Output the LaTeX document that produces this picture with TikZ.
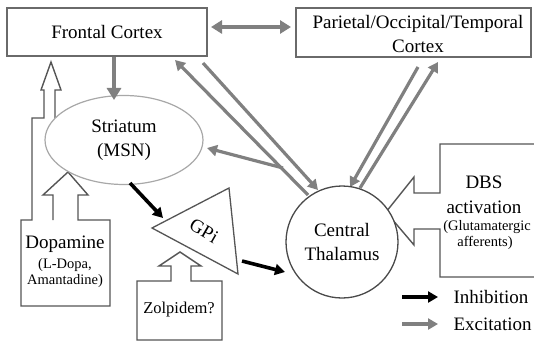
\documentclass[tikz,border=0pt]{standalone}
\usepackage{fontspec}
\setmainfont{Liberation Serif}
\usetikzlibrary{arrows.meta,shapes.geometric,calc}
\definecolor{boxgray}{HTML}{6A6A6A}
\definecolor{arrgray}{HTML}{808080}
\definecolor{elgray}{HTML}{A8A8A8}
\definecolor{outl}{HTML}{555555}
\definecolor{circgray}{HTML}{4A4A4A}
\begin{document}
\begin{tikzpicture}[x=1pt,y=-1pt,
  font=\fontsize{19}{24}\selectfont,
  smallfont/.style={font=\fontsize{14.5}{17}\selectfont},
  box/.style={draw=boxgray,line width=1.6pt,fill=white,inner sep=0pt},
  outline/.style={draw=outl,line width=1.4pt,line join=miter},
  garrow/.style={draw=arrgray,line width=4.6pt,-{Triangle[length=12pt,width=14pt]}},
  gdouble/.style={draw=arrgray,line width=4.6pt,{Triangle[length=11pt,width=13pt]}-{Triangle[length=11pt,width=13pt]}},
  gthin/.style={draw=arrgray,line width=3.2pt,-{Triangle[length=10pt,width=11pt]}},
  barrow/.style={draw=black,line width=3.6pt,-{Triangle[length=10pt,width=11pt]}},
  labeltext/.style={inner sep=1pt}]
\useasboundingbox (0,0) rectangle (534,342);
\fill[white] (0,0) rectangle (534,342);

% cortex boxes
\node[box,minimum width=200pt,minimum height=48pt] (frontal) at (107,32) {Frontal Cortex};
\node[box,minimum width=235pt,minimum height=49pt] (parietal) at (413.5,32.5) {};
\node[labeltext,align=center] (ptext) at (418,34) {Parietal/Occipital/Temporal\\Cortex};

% dopamine block arrows
\draw[outline] (55,140) -- (55,90) -- (61,90) -- (51,62) -- (41,90) -- (44,90) -- (44,118)
  -- (32,118) -- (32,220) -- (21,220) -- (21,306) -- (110,306) -- (110,220) -- (78,220)
  -- (78,195) -- (88,195) -- (68,172) -- (43,195) -- (53,195) -- (53,220);
\node[labeltext] (dopa1) at (65,244) {Dopamine};
\node[labeltext,smallfont] (dopa2) at (65,265) {(L-Dopa,};
\node[labeltext,smallfont] (dopa3) at (65,281) {Amantadine)};

% striatum
\node[ellipse,draw=elgray,line width=1.2pt,fill=white,minimum width=158pt,minimum height=89pt,
  align=center,inner sep=0pt] (striatum) at (124,140) {Striatum\\(MSN)};

% GPi
\coordinate (g1) at (152,228);
\coordinate (g2) at (229,188);
\coordinate (g3) at (238,274);
\draw[draw=outl,line width=1.3pt,line join=miter] (g1) -- (g2) -- (g3) -- cycle;
\node[labeltext,rotate=-30] (gpi) at (204,231) {GPi};

% Zolpidem
\draw[outline] (171,281) -- (171,266) -- (159,266) -- (180,252) -- (201,266) -- (191,266)
  -- (191,281) -- (222,281) -- (222,340) -- (137,340) -- (137,281) -- cycle;
\node[labeltext,font=\fontsize{16.5}{20}\selectfont] (zol) at (179,310) {Zolpidem?};

% DBS
\draw[outline] (534,144) -- (440,144) -- (440,193) -- (414,193) -- (414,177) -- (386,212)
  -- (414,245) -- (414,229) -- (440,229) -- (440,277) -- (534,277);
\node[labeltext] (dbs1) at (484,182) {DBS};
\node[labeltext] (dbs2) at (484,207) {activation};
\node[labeltext,smallfont] (dbs3) at (487,227) {(Glutamatergic};
\node[labeltext,smallfont] (dbs4) at (485,243) {afferents)};

% gray excitatory connections
\coordinate (fcS) at (114,57);
\coordinate (stN) at (114,100);
\draw[garrow] (fcS) -- (stN);
\coordinate (fcE) at (211,27);
\coordinate (ptW) at (291,27);
\draw[gdouble] (fcE) -- (ptW);

\coordinate (thA) at (308,195);
\coordinate (fcA) at (175,60);
\coordinate (fcB) at (203,63);
\coordinate (thB) at (318,190);
\coordinate (thC) at (283,168);
\coordinate (stE) at (207,148);
\coordinate (ptA) at (418,67);
\coordinate (thD) at (350,187);
\coordinate (thE) at (360,188);
\coordinate (ptB) at (438,62);
\draw[gthin] (thA) -- (fcA);
\draw[gthin] (fcB) -- (thB);
\draw[gthin] (thC) -- (stE);
\draw[gthin] (ptA) -- (thD);
\draw[gthin] (thE) -- (ptB);

% thalamus
\node[circle,draw=circgray,line width=1.3pt,fill=white,minimum size=112pt,align=center,inner sep=0pt]
  (thal) at (342,242) {Central\\Thalamus};

% inhibitory connections
\coordinate (stS) at (130,183);
\coordinate (gIn) at (163,218);
\draw[barrow] (stS) -- (gIn);
\coordinate (gOut) at (242,261);
\coordinate (thW) at (285,272);
\draw[barrow] (gOut) -- (thW);

% legend
\coordinate (l1a) at (402,297);
\coordinate (l1b) at (438,297);
\draw[barrow,line width=4.2pt] (l1a) -- (l1b);
\node[anchor=west] (inh) at (450,297) {Inhibition};
\coordinate (l2a) at (402,324);
\coordinate (l2b) at (438,324);
\draw[garrow,line width=4.2pt,-{Triangle[length=10pt,width=11pt]}] (l2a) -- (l2b);
\node[anchor=west] (exc) at (450,324) {Excitation};
\end{tikzpicture}
\end{document}
